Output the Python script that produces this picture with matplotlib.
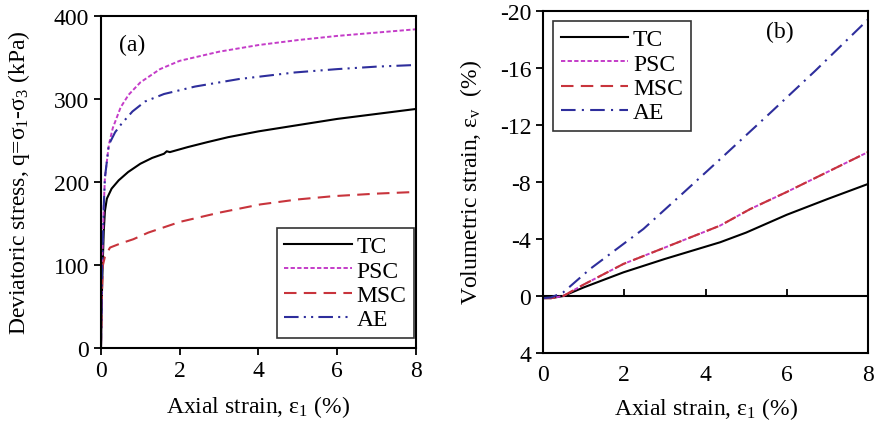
#!/usr/bin/env python3

import matplotlib
matplotlib.use('Agg')
import matplotlib.pyplot as plt

plt.rcParams['font.family'] = ['Liberation Serif', 'DejaVu Serif']
plt.rcParams['mathtext.fontset'] = 'custom'
plt.rcParams['mathtext.rm'] = 'Liberation Serif'
plt.rcParams['mathtext.it'] = 'Liberation Serif:italic'
plt.rcParams['axes.unicode_minus'] = False

FS = 17

# (a) deviatoric stress vs axial strain
tc_x = [0, 0.03, 0.07, 0.1, 0.15, 0.27, 0.45, 0.69, 1.0, 1.3, 1.6, 1.67, 1.75, 2.2, 2.7, 3.23, 4.0, 4.93, 6.0, 7.0, 8.0]
tc_q = [0, 80, 140, 165, 180, 192, 202, 212, 222, 229, 234, 237, 236, 242, 248, 254, 261, 268, 276, 282, 288]

psc_x = [0, 0.03, 0.07, 0.1, 0.2, 0.3, 0.5, 0.7, 1.0, 1.5, 2.0, 3.0, 4.0, 5.0, 6.0, 7.0, 8.0]
psc_q = [0, 100, 170, 205, 245, 265, 290, 305, 320, 336, 346, 357, 365, 371, 376, 380, 384]

msc_x = [0, 0.02, 0.05, 0.1, 0.23, 0.5, 0.82, 1.2, 2.01, 3.0, 4.05, 5.0, 5.92, 7.0, 8.0]
msc_q = [0, 60, 100, 110, 121, 126, 131, 139, 152, 163, 173, 179, 183, 186, 188]

ae_x = [0, 0.03, 0.07, 0.1, 0.2, 0.36, 0.52, 0.8, 1.12, 1.6, 2.39, 3.5, 4.93, 6.0, 7.0, 8.0]
ae_q = [0, 100, 170, 205, 245, 260, 270, 285, 297, 306, 315, 324, 332, 336, 339, 341]

# (b) volumetric strain vs axial strain
tc_vx = [0, 0.2, 0.5, 1.0, 1.98, 3.0, 4.36, 5.0, 6.0, 7.0, 8.0]
tc_ev = [0.15, 0.15, 0.0, -0.6, -1.66, -2.6, -3.77, -4.45, -5.7, -6.8, -7.86]

psc_vx = [0, 0.2, 0.5, 1.0, 1.98, 3.0, 4.36, 5.1, 6.0, 7.0, 8.0]
psc_ev = [0.15, 0.15, 0.0, -0.8, -2.25, -3.4, -4.94, -6.1, -7.3, -8.7, -10.1]

msc_vx = [0, 0.2, 0.5, 1.0, 1.98, 3.0, 4.36, 5.1, 6.0, 7.0, 8.0]
msc_ev = [0.15, 0.15, 0.0, -0.8, -2.25, -3.4, -4.94, -6.1, -7.3, -8.7, -10.1]

ae_vx = [0, 0.2, 0.5, 1.16, 2.47, 3.4, 4.36, 5.5, 6.7, 8.0]
ae_ev = [0.15, 0.1, -0.26, -1.9, -4.7, -7.1, -9.6, -12.6, -15.8, -19.4]

c_tc = 'black'
c_psc = '#c43cc8'
c_msc = '#c8343c'
c_ae = '#2e2e9c'

fig = plt.figure(figsize=(8.75, 4.27), dpi=100)
ax1 = fig.add_axes([0.1154, 0.1827, 0.36, 0.7775])
ax2 = fig.add_axes([0.6206, 0.171, 0.3714, 0.8009])

ax1.plot(tc_x, tc_q, color=c_tc, lw=1.5, label='TC')
ax1.plot(psc_x, psc_q, color=c_psc, lw=1.4, dashes=(2.2, 1.2), label='PSC')
ax1.plot(msc_x, msc_q, color=c_msc, lw=1.5, dashes=(6, 3.5), label='MSC')
ax1.plot(ae_x, ae_q, color=c_ae, lw=1.5, dashes=(7, 2.5, 1, 2.5, 1, 2.5), label='AE')

ax1.set_xlim(0, 8)
ax1.set_ylim(0, 400)
ax1.set_xticks([0, 2, 4, 6, 8])
ax1.set_yticks([0, 100, 200, 300, 400])
ax1.set_xlabel('Axial strain, ε$_\\mathregular{1}$ (%)', fontsize=FS, labelpad=9)
ax1.set_ylabel('Deviatoric stress, q=σ$_\\mathregular{1}$-σ$_\\mathregular{3}$ (kPa)', fontsize=FS, labelpad=16)
ax1.text(0.1, 0.915, '(a)', transform=ax1.transAxes, fontsize=FS, ha='center', va='center')
leg1 = ax1.legend(loc='lower right', bbox_to_anchor=(0.994, 0.03), fontsize=FS,
                  frameon=True, fancybox=False, handlelength=2.85, handletextpad=0.2,
                  labelspacing=0.12, borderpad=0.33, borderaxespad=0)
leg1.get_frame().set_edgecolor('black')
leg1.get_frame().set_linewidth(1.2)

ax2.plot(tc_vx, tc_ev, color=c_tc, lw=1.5, label='TC')
ax2.plot(psc_vx, psc_ev, color=c_psc, lw=1.4, dashes=(2.2, 1.2), label='PSC')
ax2.plot(msc_vx, msc_ev, color=c_msc, lw=1.5, dashes=(6, 3.5), label='MSC')
ax2.plot(ae_vx, ae_ev, color=c_ae, lw=1.5, dashes=(7, 3, 1, 3), label='AE')
ax2.axhline(0, color='black', lw=1.5, zorder=1)

ax2.set_xlim(0, 8)
ax2.set_ylim(4, -20)
ax2.set_xticks([0, 2, 4, 6, 8])
ax2.set_yticks([-20, -16, -12, -8, -4, 0, 4])
sec = ax2.secondary_xaxis(4 / 24)
sec.set_xticks([2, 4, 6])
sec.tick_params(axis='x', direction='in', length=5, width=1.3, labelbottom=False)
sec.spines['bottom'].set_visible(False)
ax2.set_xlabel('Axial strain, ε$_\\mathregular{1}$ (%)', fontsize=FS, labelpad=7)
ax2.set_ylabel('Volumetric strain, ε$_\\mathregular{v}$  (%)', fontsize=FS, labelpad=11)
ax2.text(0.73, 0.94, '(b)', transform=ax2.transAxes, fontsize=FS, ha='center', va='center')
leg2 = ax2.legend(loc='upper left', bbox_to_anchor=(0.031, 0.971), fontsize=FS,
                  frameon=True, fancybox=False, handlelength=2.85, handletextpad=0.2,
                  labelspacing=0.12, borderpad=0.33, borderaxespad=0)
leg2.get_frame().set_edgecolor('black')
leg2.get_frame().set_linewidth(1.2)

for ax in (ax1, ax2):
    for s in ax.spines.values():
        s.set_linewidth(1.5)
    ax.tick_params(labelsize=FS, direction='out', width=1.3, length=5)
ax2.tick_params(axis='x', length=0, pad=8)

plt.savefig('out.png', dpi=100)
plt.close()
